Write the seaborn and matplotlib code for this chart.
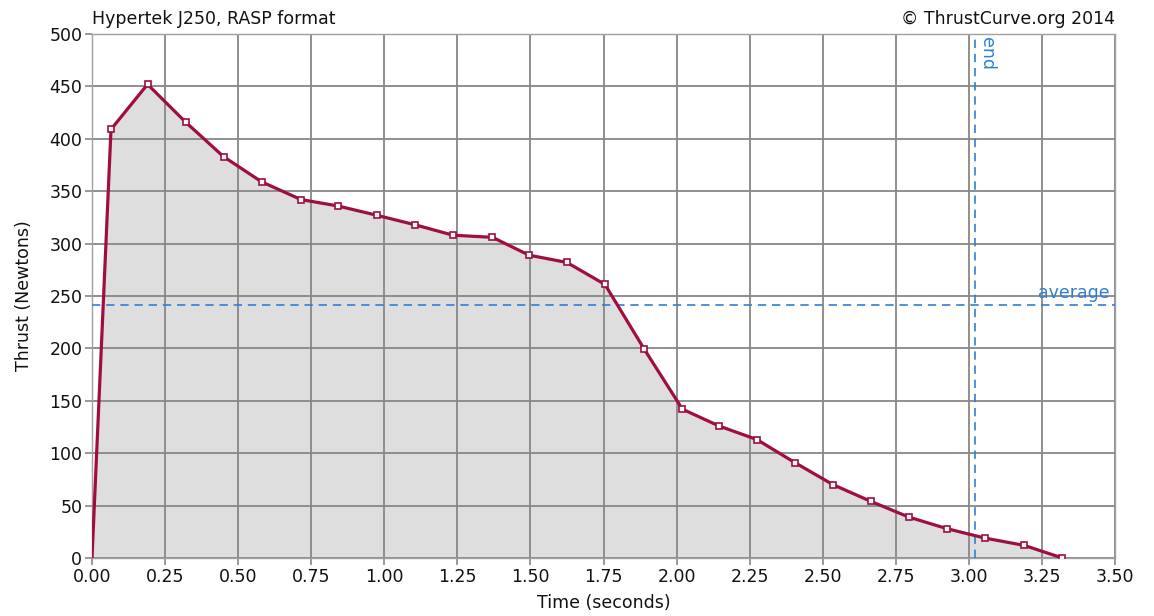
# Thrust curve for the Hypertek J250 (RASP data)
import matplotlib
matplotlib.use("Agg")
import matplotlib.pyplot as plt
import numpy as np
import pandas as pd
import seaborn as sns

# Data
time_s = [0.00, 0.065, 0.19, 0.32, 0.45, 0.58, 0.715, 0.84, 0.975, 1.105,
          1.235, 1.37, 1.495, 1.625, 1.755, 1.89, 2.02, 2.145, 2.275, 2.405,
          2.535, 2.665, 2.795, 2.925, 3.055, 3.19, 3.32]
thrust_n = [0, 409, 452, 416, 383, 359, 342, 336, 327, 318,
            308, 306, 289, 282, 261, 199, 142, 126, 113, 91,
            70, 54, 39, 28, 19, 12, 0]
average_n = 241.5
burn_end_s = 3.02
x_ticks = [0.00, 0.25, 0.50, 0.75, 1.00, 1.25, 1.50, 1.75, 2.00, 2.25, 2.50, 2.75, 3.00, 3.25, 3.50]
y_ticks = [0, 50, 100, 150, 200, 250, 300, 350, 400, 450, 500]

df = pd.DataFrame({"time": time_s, "thrust": thrust_n})

sns.set_style("white")
plt.rcParams["font.family"] = ["DejaVu Sans"]
plt.rcParams["text.color"] = "#111111"
plt.rcParams["axes.labelcolor"] = "#111111"
plt.rcParams["xtick.color"] = "#111111"
plt.rcParams["ytick.color"] = "#111111"

line_col = "#a00d40"
grid_col = "#878787"
blue = "#2f7fd6"
fs = 12.5

fig = plt.figure(figsize=(11.54, 6.16), dpi=100)
ax = fig.add_axes([92 / 1154, 1 - 558 / 616, (1115 - 92) / 1154, (558 - 34) / 616])

# shaded area under the curve
ax.fill_between(df["time"], df["thrust"], 0, color="#dedede", zorder=1)

# grid lines
for xv in x_ticks:
    ax.axvline(xv, color=grid_col, lw=1.3, zorder=2)
for yv in y_ticks:
    ax.axhline(yv, color=grid_col, lw=1.3, zorder=2)

# average / end reference lines
ax.axhline(average_n, color=blue, lw=1.2, ls=(0, (5, 3.5)), zorder=3)
ax.axvline(burn_end_s, color=blue, lw=1.2, ls=(0, (5, 3.5)), zorder=3)
ax.text(3.48, average_n + 3, "average", color=blue, fontsize=fs, ha="right", va="bottom", zorder=4)
ax.text(burn_end_s + 0.012, 497, "end", color=blue, fontsize=fs, rotation=270,
        ha="left", va="top", zorder=4)

# curve, no marker on the ignition point at t=0
sns.lineplot(data=df, x="time", y="thrust", ax=ax, color=line_col, lw=2.3,
             marker="s", markersize=5, markerfacecolor="white",
             markeredgecolor=line_col, markeredgewidth=1.2, zorder=5,
             markevery=list(range(1, len(df))))

ax.set_xlim(0, 3.5)
ax.set_ylim(0, 500)
ax.set_xticks(x_ticks)
ax.set_xticklabels([f"{v:.2f}" for v in x_ticks])
ax.set_yticks(y_ticks)
ax.tick_params(axis="both", which="both", length=5, width=1.2, color=grid_col,
               labelsize=fs, pad=2, direction="out", bottom=True, left=True)
for sp in ax.spines.values():
    sp.set_color("#a0a0a0")
    sp.set_linewidth(1.0)

ax.set_xlabel("Time (seconds)", fontsize=fs, labelpad=6)
ax.set_ylabel("Thrust (Newtons)", fontsize=fs, labelpad=12)

ax.text(0.0, 1.012, "Hypertek J250, RASP format", transform=ax.transAxes,
        fontsize=fs, ha="left", va="bottom")
ax.text(1.0, 1.012, "\u00a9 ThrustCurve.org 2014", transform=ax.transAxes,
        fontsize=fs, ha="right", va="bottom")

fig.savefig("out.png", dpi=100)
